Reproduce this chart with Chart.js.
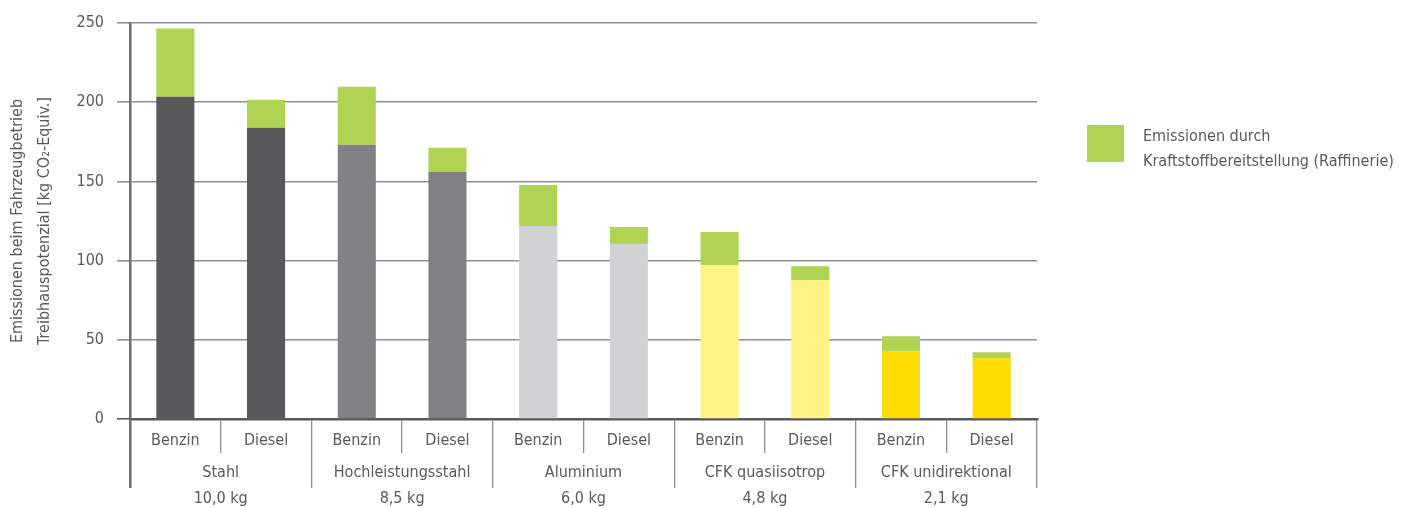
<!DOCTYPE html>
<html>
<head>
<meta charset="utf-8">
<script src="https://cdn.jsdelivr.net/npm/chart.js@4/dist/chart.umd.min.js"></script>
<style>
  html, body { margin: 0; padding: 0; background: #ffffff; }
  #wrap { width: 1413px; height: 508px; position: relative; }
</style>
</head>
<body>
<div id="wrap"><canvas id="chart"></canvas></div>
<script>
// Fuel type per bar, material groups and their component weights
const fuels = ['Benzin', 'Diesel', 'Benzin', 'Diesel', 'Benzin', 'Diesel', 'Benzin', 'Diesel', 'Benzin', 'Diesel'];
const materials = ['Stahl', 'Hochleistungsstahl', 'Aluminium', 'CFK quasiisotrop', 'CFK unidirektional'];
const weights = ['10,0 kg', '8,5 kg', '6,0 kg', '4,8 kg', '2,1 kg'];

// Emissions during vehicle operation and from fuel supply (refinery), kg CO2-equiv.
const operationEmissions = [203.5, 183.9, 173.1, 156.0, 121.8, 110.4, 97.2, 87.7, 42.7, 38.3];
const refineryEmissions  = [43.0, 17.7, 36.7, 15.2, 26.0, 10.8, 20.8, 8.8, 9.5, 3.8];

const yTicks = [0, 50, 100, 150, 200, 250];
const yTitle = ['Emissionen beim Fahrzeugbetrieb', 'Treibhauspotenzial [kg CO\u2082-Equiv.]'];
const refineryLabel = ['Emissionen durch', 'Kraftstoffbereitstellung (Raffinerie)'];

const materialColors = ['#58595b', '#818285', '#d1d2d4', '#fff385', '#ffdd00'];
const refineryColor = '#b1d353';
const textColor = '#58595b';
const gridColor = '#8e8f91';
const axisColor = '#6d6e70';

// Pick the first installed condensed family
function pickFamily(cands, fallback) {
  const c = document.createElement('canvas').getContext('2d');
  const probe = 'Kraftstoffbereitstellung 0123456789';
  for (const f of cands) {
    let differs = false;
    for (const base of ['monospace', 'serif']) {
      c.font = '16px ' + base;
      const w0 = c.measureText(probe).width;
      c.font = '16px "' + f + '", ' + base;
      if (c.measureText(probe).width !== w0) differs = true; else { differs = false; break; }
    }
    if (differs) return '"' + f + '", ' + fallback;
  }
  return fallback;
}
const family = pickFamily(['Liberation Sans Narrow', 'DejaVu Sans Condensed', 'Roboto Condensed'], 'Roboto, sans-serif');
const baseFont = { family: family, size: 16 };

const groupLabels = materials.map((m, i) => [m, weights[i]]);

// Legend drawn to the right of the plot for the refinery series only
const sideLegend = {
  id: 'sideLegend',
  afterDraw(chart) {
    const { ctx, chartArea } = chart;
    const ds = chart.data.datasets[1];
    const x = chartArea.right + 50;
    const y = chartArea.top + 102;
    const size = 37;
    ctx.save();
    ctx.fillStyle = ds.backgroundColor;
    ctx.fillRect(x, y, size, size);
    ctx.fillStyle = textColor;
    ctx.font = '16px ' + family;
    ctx.textBaseline = 'middle';
    ctx.textAlign = 'left';
    ds.label.forEach((line, i) => ctx.fillText(line, x + 56, y + 12 + i * 25));
    ctx.restore();
  }
};

new Chart(document.getElementById('chart'), {
  type: 'bar',
  data: {
    labels: fuels,
    datasets: [
      {
        label: 'Fahrzeugbetrieb',
        data: operationEmissions,
        backgroundColor: operationEmissions.map((_, i) => materialColors[Math.floor(i / 2)]),
        barPercentage: 0.42,
        categoryPercentage: 1,
        borderWidth: 0,
        xAxisID: 'x'
      },
      {
        label: refineryLabel,
        data: refineryEmissions,
        backgroundColor: refineryColor,
        barPercentage: 0.42,
        categoryPercentage: 1,
        borderWidth: 0,
        xAxisID: 'x'
      }
    ]
  },
  options: {
    responsive: true,
    maintainAspectRatio: false,
    animation: false,
    layout: { padding: { top: 23, right: 376, left: 0, bottom: 0 } },
    plugins: { legend: { display: false }, tooltip: { enabled: false } },
    scales: {
      y: {
        stacked: true,
        min: 0,
        max: 250,
        afterBuildTicks: s => { s.ticks = yTicks.map(v => ({ value: v })); },
        afterFit: s => { s.width = 130; },
        border: { display: true, color: axisColor, width: 2.5 },
        grid: {
          color: c => (c.tick && c.tick.value === 0 ? textColor : gridColor),
          lineWidth: 1.6,
          drawTicks: true,
          tickLength: 13
        },
        ticks: { color: textColor, font: baseFont, padding: 13 },
        title: {
          display: true,
          text: yTitle,
          color: textColor,
          font: { family: family, size: 16, lineHeight: 1.7 },
          padding: { top: 4, bottom: 0 }
        }
      },
      x: {
        stacked: true,
        offset: true,
        position: 'bottom',
        afterFit: s => { s.height = 34; },
        border: { display: true, color: textColor, width: 2.5 },
        grid: {
          offset: true,
          drawOnChartArea: false,
          drawTicks: true,
          tickLength: 34,
          color: c => (c.index === 0 ? axisColor : gridColor),
          lineWidth: c => (c.index === 0 ? 2.5 : 1.3)
        },
        ticks: { color: textColor, font: baseFont, padding: -22, autoSkip: false, maxRotation: 0 }
      },
      x2: {
        type: 'category',
        labels: groupLabels,
        offset: true,
        position: 'bottom',
        afterFit: s => { s.height = 55; },
        border: { display: false },
        grid: {
          offset: true,
          drawOnChartArea: false,
          drawTicks: true,
          tickLength: 35,
          color: c => (c.index === 0 ? axisColor : gridColor),
          lineWidth: c => (c.index === 0 ? 2.5 : 1.3)
        },
        ticks: { color: textColor, font: { family: family, size: 16, lineHeight: 1.6 }, padding: -28, autoSkip: false, maxRotation: 0 }
      }
    }
  },
  plugins: [sideLegend]
});
</script>
</body>
</html>
